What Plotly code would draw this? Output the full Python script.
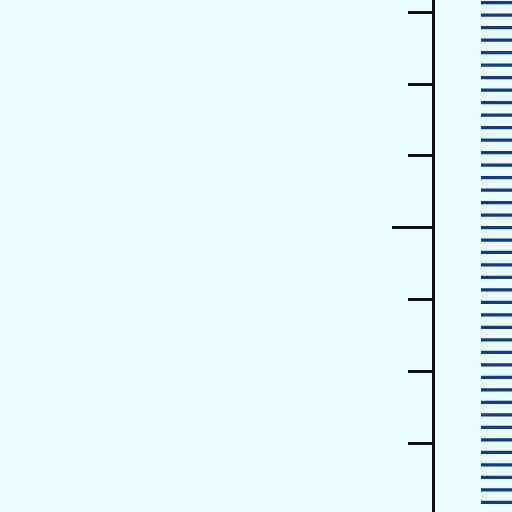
import plotly.graph_objects as go

# Data
bar_labels = ["1", "2", "3", "4", "5", "6", "7", "8", "9", "10",
              "11", "12", "13", "14", "15", "16", "17", "18", "19", "20",
              "21", "22", "23", "24", "25", "26", "27", "28", "29", "30",
              "31", "32", "33", "34", "35", "36", "37", "38", "39", "40", "41"]
bar_values = [1.2, 1.2, 1.2, 1.2, 1.2, 1.2, 1.2, 1.2, 1.2, 1.2,
              1.2, 1.2, 1.2, 1.2, 1.2, 1.2, 1.2, 1.2, 1.2, 1.2,
              1.2, 1.2, 1.2, 1.2, 1.2, 1.2, 1.2, 1.2, 1.2, 1.2,
              1.2, 1.2, 1.2, 1.2, 1.2, 1.2, 1.2, 1.2, 1.2, 1.2, 1.2]
major_tick = [0]
minor_ticks = [-3, -2, -1, 1, 2, 3]

BG = "#e8fbfd"

fig = go.Figure()
# empty trace to anchor the visible axis
fig.add_trace(go.Scatter(x=[], y=[], xaxis="x", yaxis="y", hoverinfo="skip", showlegend=False))
fig.add_trace(go.Bar(
    y=bar_labels, x=bar_values, orientation="h",
    xaxis="x", yaxis="y2",
    marker=dict(color="#173b7c", line=dict(width=0)),
    width=0.26, showlegend=False,
))

fig.update_layout(
    width=512, height=512,
    margin=dict(l=0, r=0, t=0, b=0),
    paper_bgcolor=BG, plot_bgcolor=BG,
    xaxis=dict(domain=[435 / 512, 1], range=[-1.484, 1.0], visible=False, fixedrange=True),
    yaxis=dict(
        range=[-3.958, 3.170], showgrid=False, zeroline=False,
        showline=True, linecolor="#111111", linewidth=3,
        tickmode="array", tickvals=major_tick, ticks="outside", ticklen=40, tickwidth=3,
        tickcolor="#111111", showticklabels=False,
        minor=dict(tickmode="array", tickvals=minor_ticks, ticks="outside", ticklen=24,
                   tickwidth=3, tickcolor="#111111", showgrid=False),
    ),
    yaxis2=dict(
        overlaying="y", type="category", range=[-0.777, 40.216],
        visible=False, showgrid=False,
    ),
)

fig.write_html(
    "out.html",
    config={"displayModeBar": False},
    post_script="document.body.style.margin='0';document.body.style.overflow='hidden';document.body.style.background='" + BG + "';",
)
